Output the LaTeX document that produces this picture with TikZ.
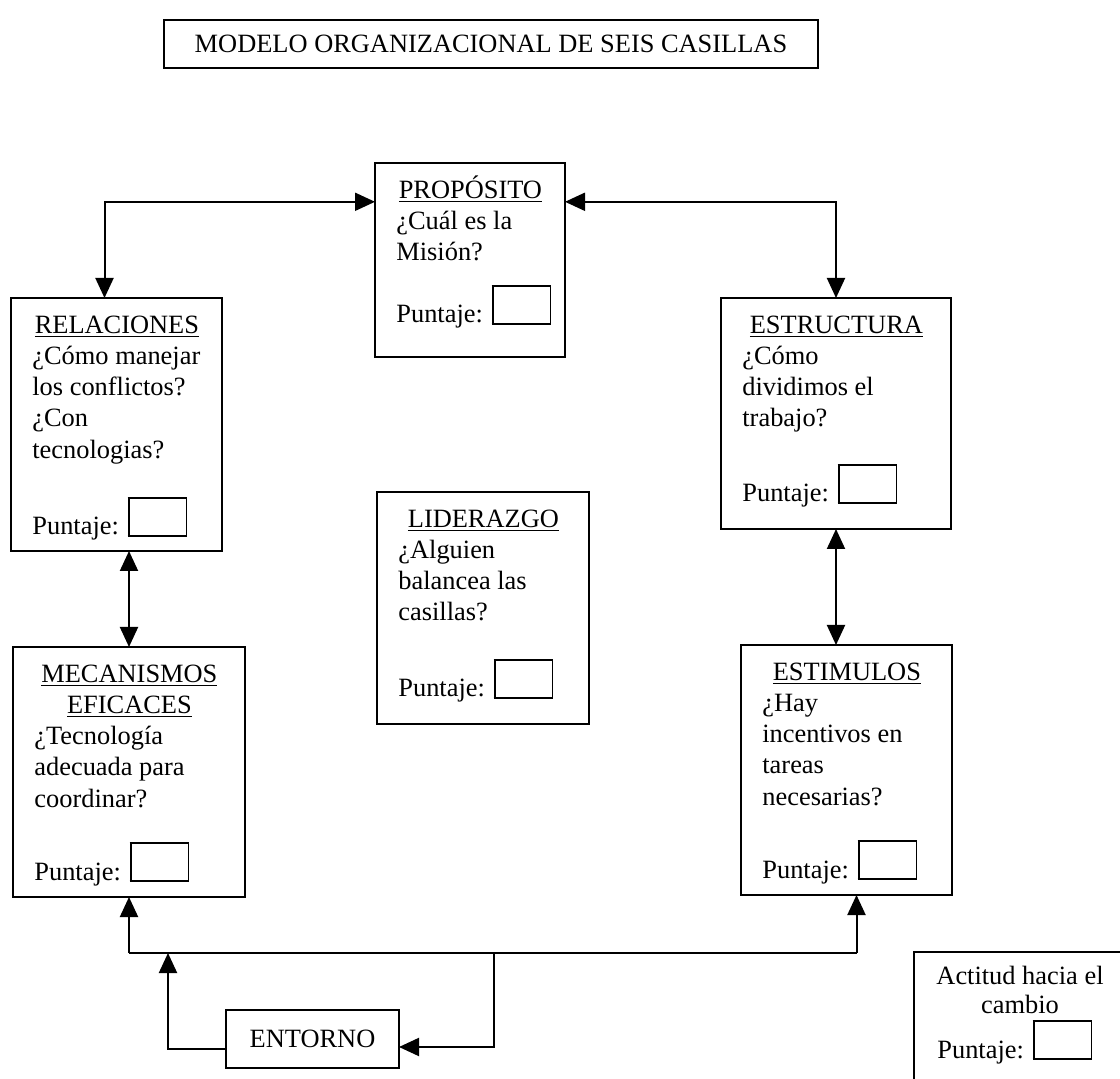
\documentclass[tikz,border=0pt]{standalone}
\usepackage{fontspec}
\setmainfont{Liberation Serif}
\usetikzlibrary{arrows.meta}
\usetikzlibrary{calc}

\newcommand{\cajita}{{\setlength{\fboxsep}{0pt}\setlength{\fboxrule}{0.9pt}\fbox{\rule{0pt}{18.2pt}\rule{28pt}{0pt}}}}
\newcommand{\encab}[2]{\makebox[#1]{\underline{#2}}}

\begin{document}
\begin{tikzpicture}[x=0.5pt,y=-0.5pt,
    casilla/.style={draw,line width=1.2pt,anchor=north west,inner sep=0pt,outer sep=0pt,
      font=\fontsize{13.2}{15.6}\selectfont},
    cuerpo/.style={align=left,inner sep=0pt,font=\fontsize{13.2}{15.6}\selectfont},
    flecha/.style={line width=1pt,-{Triangle[width=9pt,length=10pt]}},
    ambas/.style={line width=1pt,{Triangle[width=9pt,length=10pt]}-{Triangle[width=9pt,length=10pt]}}]
  \useasboundingbox (0,0) rectangle (1120,1079);

  \node[casilla,minimum width=327pt,minimum height=24pt] (titulo) at (164,20) {MODELO ORGANIZACIONAL DE SEIS CASILLAS};

  \node[casilla,minimum width=95pt,minimum height=97pt] (prop) at (375,163) {};
  \node[casilla,minimum width=105.5pt,minimum height=126.5pt] (rel) at (11,298) {};
  \node[casilla,minimum width=115pt,minimum height=115.5pt] (estr) at (721,298) {};
  \node[casilla,minimum width=106pt,minimum height=116pt] (lid) at (377,492) {};
  \node[casilla,minimum width=116pt,minimum height=125pt] (mec) at (13,647) {};
  \node[casilla,minimum width=105.5pt,minimum height=125pt] (estim) at (741,645) {};
  \node[casilla,minimum width=106pt,minimum height=70pt] (act) at (914,952) {};
  \node[casilla,minimum width=86.5pt,minimum height=29pt] (ent) at (226,1010) {ENTORNO};

  \node[cuerpo,anchor=north west] (propT) at ($(prop.north west)+(21,0)$)
    {\rule{0pt}{17.5pt}\encab{74pt}{PROPÓSITO}\\¿Cuál es la\\Misión?};
  \node[cuerpo,anchor=north west] (relT) at ($(rel.north west)+(21,0)$)
    {\rule{0pt}{17.5pt}\encab{84.5pt}{RELACIONES}\\¿Cómo manejar\\los conflictos?\\¿Con\\tecnologias?};
  \node[cuerpo,anchor=north west] (estrT) at ($(estr.north west)+(21,0)$)
    {\rule{0pt}{17.5pt}\encab{94pt}{ESTRUCTURA}\\¿Cómo\\dividimos el\\trabajo?};
  \node[cuerpo,anchor=north west] (lidT) at ($(lid.north west)+(21,0)$)
    {\rule{0pt}{17.5pt}\encab{85pt}{LIDERAZGO}\\¿Alguien\\balancea las\\casillas?};
  \node[cuerpo,anchor=north west] (mecT) at ($(mec.north west)+(21,0)$)
    {\rule{0pt}{17.5pt}\encab{95pt}{MECANISMOS}\\\encab{95pt}{EFICACES}\\¿Tecnología\\adecuada para\\coordinar?};
  \node[cuerpo,anchor=north west] (estimT) at ($(estim.north west)+(21,0)$)
    {\rule{0pt}{17.5pt}\encab{84.5pt}{ESTIMULOS}\\¿Hay\\incentivos en\\tareas\\necesarias?};
  \node[cuerpo,align=center,anchor=north] (actT) at (act.north)
    {\rule{0pt}{16pt}Actitud hacia el\\[-1pt]cambio};

  \node[cuerpo,anchor=base west] (propP) at ($(prop.south west)+(21,-34)$) {Puntaje: \cajita};
  \node[cuerpo,anchor=base west] (relP) at ($(rel.south west)+(21,-16)$) {Puntaje: \cajita};
  \node[cuerpo,anchor=base west] (estrP) at ($(estr.south west)+(21,-27)$) {Puntaje: \cajita};
  \node[cuerpo,anchor=base west] (lidP) at ($(lid.south west)+(21,-27)$) {Puntaje: \cajita};
  \node[cuerpo,anchor=base west] (mecP) at ($(mec.south west)+(21,-17)$) {Puntaje: \cajita};
  \node[cuerpo,anchor=base west] (estimP) at ($(estim.south west)+(21,-17)$) {Puntaje: \cajita};
  \node[cuerpo,anchor=base west] (actP) at ($(act.north west)+(23,106)$) {Puntaje: \cajita};

  \coordinate (bus) at (494,953);
  \coordinate (subida) at (168,953);

  \draw[ambas] ([xshift=-6pt]rel.north) |- ($(prop.north west)!.2!(prop.south west)$);
  \draw[ambas] (estr.north) |- ($(prop.north east)!.2!(prop.south east)$);
  \draw[ambas] (mec.north) -- (mec.north |- rel.south);
  \draw[ambas] (estr.south) -- (estr.south |- estim.north);
  \draw[line width=1pt] (mec.south |- bus) -- ([xshift=5pt]estim.south |- bus);
  \draw[flecha] (mec.south |- bus) -- (mec.south);
  \draw[flecha] ([xshift=5pt]estim.south |- bus) -- ([xshift=5pt]estim.south);
  \draw[flecha] (bus) |- ([yshift=-4pt]ent.east);
  \draw[flecha] ([yshift=-5pt]ent.west) -| (subida);
\end{tikzpicture}
\end{document}
